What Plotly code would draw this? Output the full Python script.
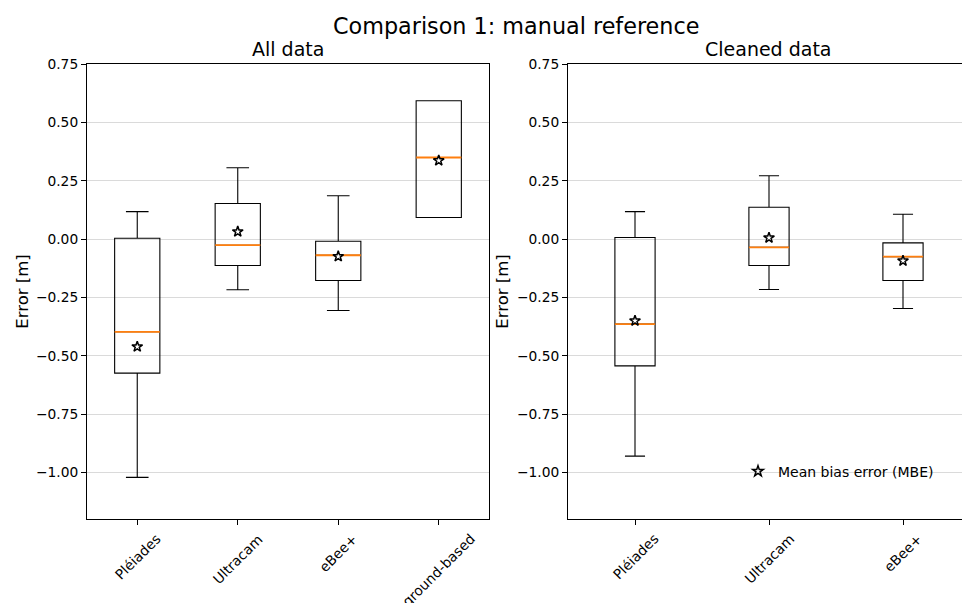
import plotly.graph_objects as go

# ---------------- data ----------------
categories_all = ["Pléiades", "Ultracam", "eBee+", "ground-based"]
categories_clean = ["Pléiades", "Ultracam", "eBee+"]

all_whislo = [-1.021, -0.217, -0.306, 0.093]
all_q1 = [-0.574, -0.113, -0.177, 0.093]
all_median = [-0.397, -0.026, -0.069, 0.350]
all_q3 = [0.004, 0.153, -0.009, 0.593]
all_whishi = [0.118, 0.306, 0.186, 0.593]
all_mean = [-0.461, 0.032, -0.074, 0.337]

clean_whislo = [-0.930, -0.216, -0.297]
clean_q1 = [-0.543, -0.113, -0.177]
clean_median = [-0.364, -0.035, -0.075]
clean_q3 = [0.007, 0.137, -0.016]
clean_whishi = [0.118, 0.272, 0.107]
clean_mean = [-0.350, 0.006, -0.093]

y_ticks = [0.75, 0.50, 0.25, 0.00, -0.25, -0.50, -0.75, -1.00]

# ---------------- styling ----------------
W = 962
H = 603
FONT = "DejaVu Sans"
MEDIAN_COLOR = "#ff7f0e"
GRID_COLOR = "#dadada"

# observed mapping between paper rows and photographed rows
Y_OFF, Y_SCALE = 7.9, 0.9857


def fy(y_px):
    """photographed pixel row -> paper fraction"""
    return 1 - ((y_px - Y_OFF) / Y_SCALE) / H


x_dom_left = [87 / W, 489 / W]
x_dom_right = [568 / W, 1.0]
y_dom = [fy(518.5), fy(64)]

fig = go.Figure()


def add_panel(cats, lo, q1, med, q3, hi, mean, xa, ya, width, show_legend):
    pos = list(range(1, len(cats) + 1))
    for i, p in enumerate(pos):
        fig.add_trace(go.Box(
            x=[p], q1=[q1[i]], median=[med[i]], q3=[q3[i]],
            lowerfence=[lo[i]], upperfence=[hi[i]],
            width=width, whiskerwidth=0.5,
            line=dict(color="black", width=1.1),
            fillcolor="rgba(0,0,0,0)", boxpoints=False,
            xaxis=xa, yaxis=ya, showlegend=False, hoverinfo="skip",
        ))
    mx, my = [], []
    for i, p in enumerate(pos):
        mx += [p - width / 2, p + width / 2, None]
        my += [med[i], med[i], None]
    fig.add_trace(go.Scatter(
        x=mx, y=my, mode="lines",
        line=dict(color=MEDIAN_COLOR, width=1.8),
        xaxis=xa, yaxis=ya, showlegend=False, hoverinfo="skip",
    ))
    fig.add_trace(go.Scatter(
        x=pos, y=mean, mode="markers",
        marker=dict(symbol="star", size=8, color="white",
                    line=dict(color="black", width=1.5)),
        name="Mean bias error (MBE)",
        xaxis=xa, yaxis=ya, showlegend=show_legend, hoverinfo="skip",
    ))
    return pos


pos_all = add_panel(categories_all, all_whislo, all_q1, all_median, all_q3,
                    all_whishi, all_mean, "x", "y", 0.45, False)
pos_clean = add_panel(categories_clean, clean_whislo, clean_q1, clean_median,
                      clean_q3, clean_whishi, clean_mean, "x2", "y2", 0.3, True)

axis_common = dict(showline=True, linecolor="black", linewidth=1.1,
                   ticks="outside", ticklen=5, tickwidth=1.1, tickcolor="black",
                   zeroline=False)

yaxis_common = dict(axis_common, range=[-1.2, 0.75], tickvals=y_ticks,
                    tickformat=".2f", showgrid=True, gridcolor=GRID_COLOR,
                    gridwidth=1, tickfont=dict(family=FONT, size=13.8, color="black"))

fig.update_layout(
    width=W, height=H, autosize=False,
    margin=dict(l=0, r=0, t=0, b=0),
    paper_bgcolor="white", plot_bgcolor="white",
    font=dict(family=FONT, color="black"),
    xaxis=dict(axis_common, domain=x_dom_left, range=[0.5, len(pos_all) + 0.5],
               tickvals=pos_all, showticklabels=False, showgrid=False,
               mirror=True, anchor="y"),
    yaxis=dict(yaxis_common, domain=y_dom, mirror=True, anchor="x"),
    xaxis2=dict(axis_common, domain=x_dom_right,
                range=[0.5, 0.5 + (962 - 568) / 134.0],
                tickvals=pos_clean, showticklabels=False, showgrid=False,
                mirror=True, anchor="y2"),
    yaxis2=dict(yaxis_common, domain=y_dom, mirror=False, anchor="x2"),
    showlegend=True,
    legend=dict(x=738 / W, y=fy(471), xanchor="left", yanchor="middle",
                bgcolor="rgba(0,0,0,0)", borderwidth=0, itemwidth=30,
                font=dict(family=FONT, size=14, color="black")),
)

annotations = []
# suptitle
annotations.append(dict(text="Comparison 1: manual reference", x=515.5 / W,
                        y=fy(25.4), xref="paper", yref="paper",
                        xanchor="center", yanchor="middle", showarrow=False,
                        font=dict(family=FONT, size=22.3, color="black")))
# subplot titles
annotations.append(dict(text="All data", x=(87 + 489) / 2 / W, y=fy(48.6),
                        xref="paper", yref="paper", xanchor="center",
                        yanchor="middle", showarrow=False,
                        font=dict(family=FONT, size=19, color="black")))
annotations.append(dict(text="Cleaned data", x=(568 + 968) / 2 / W,
                        y=fy(48.6), xref="paper", yref="paper", xanchor="center",
                        yanchor="middle", showarrow=False,
                        font=dict(family=FONT, size=19, color="black")))
# y labels
for xc in (22.3, 502.3):
    annotations.append(dict(text="Error [m]", x=xc / W, y=fy(291),
                            xref="paper", yref="paper", xanchor="center",
                            yanchor="middle", textangle=-90, showarrow=False,
                            font=dict(family=FONT, size=16.5, color="black")))
# rotated category labels (centered under the ticks, like matplotlib)
for xa, cats, pos in (("x", categories_all, pos_all),
                      ("x2", categories_clean, pos_clean)):
    for c, p in zip(cats, pos):
        annotations.append(dict(text=c, x=p, xref=xa, y=y_dom[0], yref="paper",
                                xanchor="center", yanchor="top", yshift=-9,
                                textangle=-45, showarrow=False,
                                font=dict(family=FONT, size=13.8, color="black")))

fig.update_layout(annotations=annotations)

fig.write_html("out.html")
